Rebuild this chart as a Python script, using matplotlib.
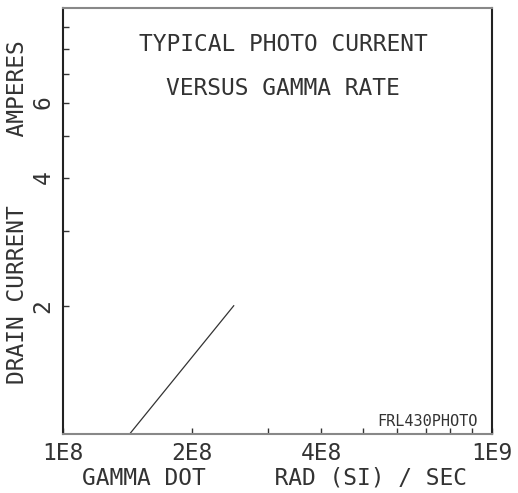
import numpy as np
import matplotlib
matplotlib.use('Agg')
import matplotlib.pyplot as plt
import matplotlib.ticker as ticker

# photo current vs gamma dot
gamma_dot = [1.43e8, 2.5e8]
drain_current = [1.0, 2.0]

x_ticks = [1e8, 2e8, 4e8, 1e9]
x_labels = ['1E8', '2E8', '4E8', '1E9']
y_ticks = [2, 4, 6]
y_labels = ['2', '4', '6']

plt.rcParams['font.family'] = ['DejaVu Sans Mono']
txt = '#333333'
big = 16.5

fig = plt.figure(figsize=(5.18, 4.93), dpi=100)
ax = fig.add_axes([63 / 518, 59 / 493, 429 / 518, 426 / 493])

ax.plot(gamma_dot, drain_current, color='#333333', lw=0.9)

ax.set_xscale('log')
ax.set_yscale('log')
ax.set_xlim(1e8, 1e9)
ax.set_ylim(1, 10)

ax.xaxis.set_major_locator(ticker.FixedLocator(x_ticks))
ax.xaxis.set_major_formatter(ticker.FixedFormatter(x_labels))
ax.xaxis.set_minor_locator(ticker.FixedLocator([k * 1e8 for k in range(2, 10)]))
ax.xaxis.set_minor_formatter(ticker.NullFormatter())
ax.yaxis.set_major_locator(ticker.FixedLocator(y_ticks))
ax.yaxis.set_major_formatter(ticker.FixedFormatter(y_labels))
ax.yaxis.set_minor_locator(ticker.FixedLocator(range(2, 10)))
ax.yaxis.set_minor_formatter(ticker.NullFormatter())

ax.tick_params(axis='both', which='both', direction='in', length=4, width=1,
               color='#333333', labelsize=big, labelcolor=txt)
ax.tick_params(axis='x', which='major', pad=6)
ax.tick_params(axis='y', which='major', pad=6, labelrotation=90)
for lbl in ax.get_yticklabels():
    lbl.set_va('center')

for side in ['left', 'right']:
    ax.spines[side].set_color('#222222')
    ax.spines[side].set_linewidth(1.5)
for side in ['top', 'bottom']:
    ax.spines[side].set_color('#888888')
    ax.spines[side].set_linewidth(1.5)

ax.text(0.513, 0.915, 'TYPICAL PHOTO CURRENT', transform=ax.transAxes,
        ha='center', va='center', fontsize=big, color=txt)
ax.text(0.513, 0.812, 'VERSUS GAMMA RATE', transform=ax.transAxes,
        ha='center', va='center', fontsize=big, color=txt)
ax.text(0.967, 0.03, 'FRL430PHOTO', transform=ax.transAxes,
        ha='right', va='center', fontsize=11, color=txt)

fig.text(275 / 518, 1 - 478 / 493, 'GAMMA DOT     RAD (SI) / SEC',
         ha='center', va='center', fontsize=big, color=txt)
fig.text(18 / 518, 1 - 212 / 493, 'DRAIN CURRENT     AMPERES', rotation=90,
         ha='center', va='center', fontsize=big, color=txt)

fig.savefig('out.png', dpi=100)
